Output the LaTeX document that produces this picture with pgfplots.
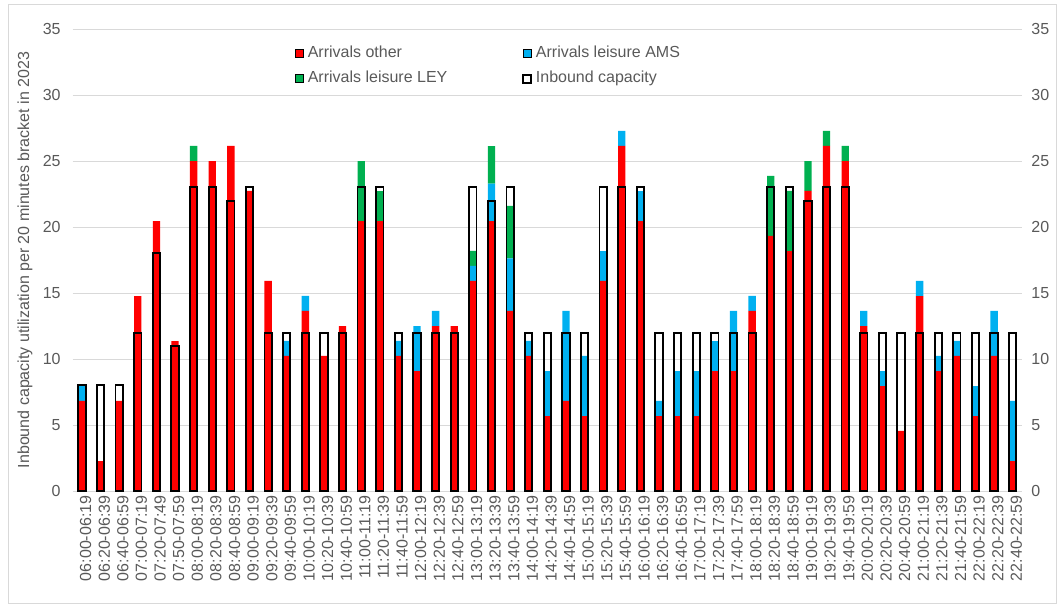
\documentclass[border=0pt]{standalone}
\usepackage{fontspec}
\setmainfont{Liberation Sans}
\usepackage{pgfplots}
\usepackage{pgfplotstable}
\pgfplotsset{compat=1.18}
\definecolor{cred}{HTML}{FF0000}
\definecolor{cblue}{HTML}{00B0F0}
\definecolor{cgreen}{HTML}{00B050}
\definecolor{txt}{HTML}{595959}
\definecolor{gridc}{HTML}{D9D9D9}

\pgfplotstableread{
x red ams ley cap
0 6.82 1.14 0 8
1 2.27 0 0 8
2 6.82 0 0 8
3 14.77 0 0 12
4 20.45 0 0 18
5 11.36 0 0 11
6 25.00 0 1.14 23
7 25.00 0 0 23
8 26.14 0 0 22
9 22.73 0 0 23
10 15.91 0 0 12
11 10.23 1.14 0 12
12 13.64 1.14 0 12
13 10.23 0 0 12
14 12.50 0 0 12
15 20.45 0 4.55 23
16 20.45 0 2.27 23
17 10.23 1.14 0 12
18 9.09 3.41 0 12
19 12.50 1.14 0 12
20 12.50 0 0 12
21 15.91 1.14 1.14 23
22 20.45 2.84 2.84 22
23 13.64 3.98 3.98 23
24 10.23 1.14 0 12
25 5.68 3.41 0 12
26 6.82 6.82 0 12
27 5.68 4.55 0 12
28 15.91 2.27 0 23
29 26.14 1.14 0 23
30 20.45 2.27 0 23
31 5.68 1.14 0 12
32 5.68 3.41 0 12
33 5.68 3.41 0 12
34 9.09 2.27 0 12
35 9.09 4.55 0 12
36 13.64 1.14 0 12
37 19.32 0 4.55 23
38 18.18 0 4.55 23
39 22.73 0 2.27 22
40 26.14 0 1.14 23
41 25.00 0 1.14 23
42 12.50 1.14 0 12
43 7.95 1.14 0 12
44 4.55 0 0 12
45 14.77 1.14 0 12
46 9.09 1.14 0 12
47 10.23 1.14 0 12
48 5.68 2.27 0 12
49 10.23 3.41 0 12
50 2.27 4.55 0 12
}\data

\pgfplotsset{
  common/.style={
    at={(0,0)}, anchor=south west,
    scale only axis, width=712pt, height=346.5pt,
    xmin=-0.5, xmax=50.5, ymin=0, ymax=35,
    ytick={0,5,...,35},
    tick style={draw=none},
    /pgf/number format/assume math mode=true,
    tick label style={font=\fontsize{12}{14}\selectfont, text=txt},
  },
  sq/.style={legend image code/.code={\draw[##1] (0pt,-3pt) rectangle (6pt,3pt);}},
}

\begin{document}
\begin{tikzpicture}
\useasboundingbox (-54.5pt,-87.75pt) rectangle (742pt,368.25pt);
\draw[gridc, line width=0.75pt] (-47.8pt,-84pt) rectangle (738.2pt,364.5pt);
\begin{axis}[
  common,
  ybar stacked, bar width=5.5pt,
  axis line style={draw=none},
  ymajorgrids, grid style={gridc, line width=0.75pt},
  xtick={0,...,50},
  xticklabels={06:00-06:19,06:20-06:39,06:40-06:59,07:00-07:19,07:20-07:49,07:50-07:59,08:00-08:19,08:20-08:39,08:40-08:59,09:00-09:19,09:20-09:39,09:40-09:59,10:00-10:19,10:20-10:39,10:40-10:59,11:00-11:19,11:20-11:39,11:40-11:59,12:00-12:19,12:20-12:39,12:40-12:59,13:00-13:19,13:20-13:39,13:40-13:59,14:00-14:19,14:20-14:39,14:40-14:59,15:00-15:19,15:20-15:39,15:40-15:59,16:00-16:19,16:20-16:39,16:40-16:59,17:00-17:19,17:20-17:39,17:40-17:59,18:00-18:19,18:20-18:39,18:40-18:59,19:00-19:19,19:20-19:39,19:40-19:59,20:00-20:19,20:20-20:39,20:40-20:59,21:00-21:19,21:20-21:39,21:40-21:59,22:00-22:19,22:20-22:39,22:40-22:59},
  xticklabel style={rotate=90, anchor=east, yshift=-2.75pt},
  yticklabel style={xshift=-5.5pt},
  ylabel={Inbound capacity utilization per 20 minutes bracket in 2023},
  every axis y label/.style={at={(axis description cs:-0.0503,0.5)}, rotate=90, anchor=center, font=\fontsize{12}{14}\selectfont, text=txt},
]
\addplot[fill=cred, draw=none] table[x=x,y=red]{\data};
\addplot[fill=cblue, draw=none] table[x=x,y=ams]{\data};
\addplot[fill=cgreen, draw=none] table[x=x,y=ley]{\data};
\end{axis}
\begin{axis}[
  common,
  axis x line=none,
  axis y line*=right,
  y axis line style={draw=none},
  yticklabel style={xshift=3.5pt},
  legend columns=2,
  legend cell align=left,
  legend style={at={(axis description cs:0.2342,0.9645)}, anchor=north west,
    draw=none, fill=none, inner sep=0pt,
    font=\fontsize{12}{14}\selectfont, text=txt,
    nodes={inner xsep=0pt, inner ysep=0pt, text height=9pt, text depth=3pt},
    row sep=6.75pt,
    /tikz/column 1/.style={column sep=3pt},
    /tikz/column 2/.style={column sep=56pt},
    /tikz/column 3/.style={column sep=3pt}},
]
\addlegendimage{sq, fill=cred, draw=none}
\addlegendimage{sq, fill=cblue, draw=none}
\addlegendimage{sq, fill=cgreen, draw=none}
\addplot[ybar, bar width=5.5pt, bar shift=0pt, fill=none, draw=black, line width=1.4pt, sq] table[x=x,y=cap]{\data};
\legend{Arrivals other, Arrivals leisure AMS, Arrivals leisure LEY, Inbound capacity}
\end{axis}
\end{tikzpicture}
\end{document}
